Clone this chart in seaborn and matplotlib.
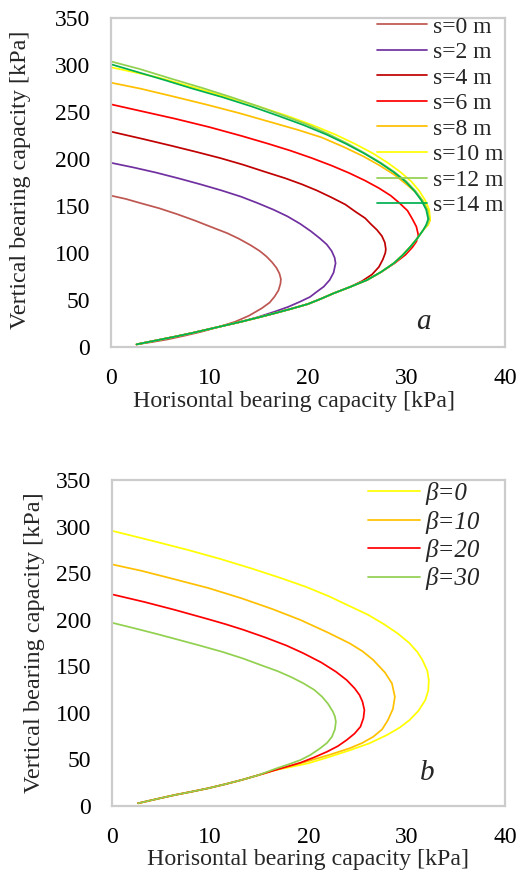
import numpy as np
import pandas as pd
import matplotlib
matplotlib.use("Agg")
import matplotlib.pyplot as plt
import seaborn as sns

# ---------------- Panel a data (s = 0 ... 14 m) ----------------
s_labels = ["s=0 m", "s=2 m", "s=4 m", "s=6 m", "s=8 m", "s=10 m", "s=12 m", "s=14 m"]
s_colors = ["#BE5651", "#7030A0", "#C00000", "#FF0000", "#FFC000", "#FFFF00", "#92D050", "#00B050"]

# common lower branch (start of every curve)
env_H = [2.6, 4.5, 6.5, 8.2, 9.85, 11.5, 13.2, 14.9, 16.6, 18.3, 20.0, 21.3, 22.6, 24.3, 26.0, 27.4, 28.7, 29.6, 30.4, 31.1, 31.7]
env_V = [2.5, 6.5, 10.7, 14.5, 18.5, 22.5, 26.6, 31.0, 35.6, 40.4, 45.5, 51.0, 56.9, 63.8, 71.1, 79.5, 88.9, 97.5, 106.6, 115.5, 124.4]

s0_H = [2.6, 4.2, 5.8, 7.5, 9.2, 10.9, 12.6, 14.0, 15.3, 16.1, 16.6, 17.0, 17.2, 17.25, 17.1, 16.8, 16.35, 15.8, 15.1, 14.2, 13.0, 11.8, 10.2, 8.5, 6.7, 4.9, 3.0, 1.5, 0.0]
s0_V = [2.5, 5.0, 7.9, 11.8, 16.0, 21.0, 26.6, 33.0, 40.9, 47.0, 53.3, 60.0, 67.0, 72.0, 78.0, 84.0, 90.0, 96.0, 102.0, 108.0, 115.0, 121.0, 127.5, 134.5, 141.3, 147.5, 153.0, 157.5, 161.0]

s2_H = env_H[:7] + [14.9, 16.6, 18.0, 19.2, 20.2, 20.9, 21.6, 22.2, 22.6, 22.8, 22.7, 22.4, 21.9, 21.2, 20.3, 19.2, 17.9, 16.5, 14.9, 13.2, 11.2, 9.1, 6.9, 4.6, 2.3, 0.0]
s2_V = env_V[:7] + [31.5, 37.3, 42.5, 48.0, 53.0, 58.6, 64.0, 71.1, 79.0, 89.0, 95.0, 102.0, 109.0, 115.5, 123.0, 131.0, 139.0, 146.0, 153.0, 159.9, 166.6, 173.0, 179.3, 185.5, 191.0, 196.0]

s4_H = env_H[:14] + [25.5, 26.5, 27.2, 27.6, 27.85, 27.9, 27.8, 27.5, 27.0, 26.4, 25.8, 24.8, 23.8, 22.4, 20.9, 19.4, 17.7, 15.6, 13.4, 11.1, 8.7, 6.2, 3.2, 0.0]
s4_V = env_V[:14] + [70.0, 77.0, 85.0, 93.0, 100.0, 104.0, 111.0, 118.0, 124.5, 130.5, 137.0, 144.0, 151.5, 159.0, 166.5, 173.0, 179.5, 186.5, 194.0, 201.0, 207.5, 214.0, 221.5, 229.2]

s6_H = env_H[:15] + [27.5, 28.8, 29.9, 30.6, 31.0, 31.2, 31.0, 30.6, 30.1, 29.3, 28.4, 27.2, 25.8, 24.2, 22.4, 20.4, 18.2, 15.9, 13.3, 10.0, 6.5, 3.1, 0.0]
s6_V = env_V[:15] + [80.0, 89.0, 98.0, 106.0, 112.0, 119.0, 128.0, 136.0, 145.0, 153.0, 161.0, 169.0, 177.0, 185.0, 193.0, 201.0, 209.0, 216.5, 224.5, 234.0, 243.0, 251.0, 258.3]

s8_H = env_H + [32.2, 32.4, 32.2, 31.7, 31.0, 30.0, 28.8, 27.3, 25.6, 23.6, 21.4, 19.0, 16.0, 13.0, 9.7, 6.2, 3.0, 0.0]
s8_V = env_V + [130.0, 135.0, 145.0, 155.0, 164.0, 173.0, 183.0, 193.0, 203.0, 213.0, 223.0, 231.0, 240.0, 249.0, 258.0, 267.0, 275.0, 281.4]

s10_H = env_H + [32.2, 32.4, 32.3, 31.9, 31.3, 30.5, 29.4, 28.1, 26.6, 24.8, 22.8, 20.5, 17.9, 15.0, 11.8, 8.2, 4.8, 0.0]
s10_V = env_V + [130.0, 136.0, 146.0, 156.0, 166.0, 176.0, 186.0, 196.0, 206.0, 216.0, 226.0, 236.0, 246.0, 256.0, 266.0, 277.0, 287.0, 297.8]

s12_H = env_H + [32.1, 32.3, 32.1, 31.6, 30.9, 30.0, 28.8, 27.4, 25.8, 24.1, 22.2, 20.0, 17.6, 15.0, 12.2, 9.2, 6.0, 2.9, 0.0]
s12_V = env_V + [130.0, 136.0, 146.0, 156.0, 166.0, 176.0, 186.0, 196.0, 206.0, 216.0, 226.0, 236.5, 246.0, 256.0, 266.0, 276.0, 286.0, 296.0, 304.0]

s14_H = env_H + [32.0, 32.2, 32.0, 31.5, 30.8, 29.9, 28.7, 27.3, 25.7, 23.9, 21.9, 19.6, 17.0, 14.3, 11.3, 8.3, 5.5, 2.6, 0.0]
s14_V = env_V + [130.0, 136.0, 146.0, 156.0, 166.0, 176.0, 186.0, 196.0, 206.0, 216.0, 226.0, 236.0, 246.0, 256.0, 266.0, 275.0, 284.0, 293.0, 301.0]

# ---------------- Panel b data (beta = 0 ... 30) ----------------
b_labels = ["β=0", "β=10", "β=20", "β=30"]
b_colors = ["#FFFF00", "#FFC000", "#FF0000", "#92D050"]

envb_H = [2.68, 4.5, 6.41, 8.1, 9.8, 11.5, 13.2, 14.9, 16.6]
envb_V = [2.6, 7.0, 11.5, 15.0, 18.7, 23.0, 27.6, 32.8, 38.2]

b0_H = envb_H + [18.3, 20.0, 22.0, 24.2, 26.2, 28.0, 29.3, 30.3, 31.2, 31.9, 32.2, 32.25, 32.1, 31.6, 31.1, 30.25, 29.1, 27.7, 26.1, 24.1, 22.1, 19.8, 17.1, 14.2, 11.1, 7.7, 4.0, 0.0]
b0_V = envb_V + [41.8, 45.6, 52.0, 59.5, 67.0, 76.0, 84.0, 92.1, 102.0, 113.6, 124.0, 135.0, 145.0, 156.6, 165.0, 175.0, 185.0, 195.0, 205.0, 215.0, 225.0, 235.0, 245.0, 255.0, 265.0, 275.0, 285.0, 295.5]

b10_H = envb_H + [18.3, 20.0, 22.1, 24.2, 25.5, 26.6, 27.5, 28.1, 28.6, 28.8, 28.5, 27.8, 26.6, 25.5, 24.2, 22.0, 19.2, 16.3, 13.2, 9.8, 6.0, 3.0, 0.0]
b10_V = envb_V + [43.0, 48.0, 54.5, 61.7, 67.5, 74.1, 82.0, 92.1, 104.0, 117.0, 131.5, 143.0, 156.6, 166.0, 174.5, 186.0, 199.6, 211.5, 222.9, 234.0, 244.4, 252.5, 259.4]

b20_H = envb_H + [18.0, 19.2, 20.6, 21.9, 23.0, 23.9, 24.7, 25.3, 25.6, 25.7, 25.5, 25.2, 24.7, 23.9, 22.8, 21.3, 19.5, 17.8, 15.7, 13.4, 11.6, 9.8, 6.4, 3.3, 0.0]
b20_V = envb_V + [42.5, 46.2, 52.0, 58.0, 64.0, 70.6, 77.5, 84.9, 94.0, 102.8, 112.0, 119.0, 126.2, 135.0, 144.0, 154.0, 163.8, 172.0, 180.5, 189.0, 195.0, 200.5, 210.5, 219.0, 227.2]

b30_H = envb_H[:8] + [16.6, 18.0, 19.2, 20.2, 21.2, 21.9, 22.4, 22.7, 22.8, 22.7, 22.5, 22.0, 21.4, 20.6, 19.5, 18.3, 16.9, 15.2, 13.3, 11.2, 9.0, 6.9, 4.6, 2.3, 0.0]
b30_V = envb_V[:8] + [39.5, 44.5, 49.1, 54.5, 61.7, 67.5, 74.1, 82.0, 90.3, 96.0, 101.0, 109.5, 117.1, 124.5, 131.5, 138.0, 144.5, 151.0, 158.4, 165.5, 172.0, 178.0, 184.5, 190.7, 196.7]

x_ticks = [0, 10, 20, 30, 40]
y_ticks = [0, 50, 100, 150, 200, 250, 300, 350]


def build(labels, Hs, Vs):
    frames = []
    for lab, h, v in zip(labels, Hs, Vs):
        frames.append(pd.DataFrame({"H": h, "V": v, "series": lab}))
    return pd.concat(frames, ignore_index=True)


df_a = build(s_labels, [s0_H, s2_H, s4_H, s6_H, s8_H, s10_H, s12_H, s14_H],
             [s0_V, s2_V, s4_V, s6_V, s8_V, s10_V, s12_V, s14_V])
df_b = build(b_labels, [b0_H, b10_H, b20_H, b30_H], [b0_V, b10_V, b20_V, b30_V])

sns.set_style("white")
plt.rcParams["font.family"] = ["Liberation Serif", "DejaVu Serif"]

W, Hpx = 520, 874
fig = plt.figure(figsize=(W / 100, Hpx / 100), dpi=100)
A_BOX = (111.0, 18.3, 505.0, 346.7)     # left, top, right, bottom in pixels
B_BOX = (111.7, 480.0, 505.0, 805.7)


def add_ax(box):
    l, t, r, b = box
    return fig.add_axes([l / W, 1 - b / Hpx, (r - l) / W, (b - t) / Hpx])


ax_a = add_ax(A_BOX)
ax_b = add_ax(B_BOX)

FS_TICK = 17
FS_LAB = 18
spine_c = "#CCCCCC"

for ax, df, labels, colors in [(ax_a, df_a, s_labels, s_colors), (ax_b, df_b, b_labels, b_colors)]:
    sns.lineplot(data=df, x="H", y="V", hue="series", hue_order=labels, palette=colors,
                 sort=False, estimator=None, units="series", linewidth=1.25, ax=ax)
    ax.set_xlim(0, 40)
    ax.set_ylim(0, 350)
    ax.set_xticks(x_ticks)
    ax.set_yticks(y_ticks)
    ax.tick_params(axis="both", length=0, labelsize=FS_TICK, colors="black")
    ax.tick_params(axis="x", pad=15)
    ax.tick_params(axis="y", pad=15)
    for sp in ax.spines.values():
        sp.set_color(spine_c)
        sp.set_linewidth(1.6)
    ax.grid(False)

# Axis labels: positioned by their measured centres in the reference
XLAB = "Horisontal bearing capacity [kPa]"
YLAB = "Vertical bearing capacity [kPa]"
label_specs = [
    (ax_a, A_BOX, (294.0, 401.7, 322.0), (21.0, 180.0, 298.0)),
    (ax_b, B_BOX, (307.5, 860.0, 321.0), (35.0, 643.0, 300.0)),
]
for ax, box, xs, ys in label_specs:
    ax.set_xlabel(XLAB, fontsize=FS_LAB)
    ax.set_ylabel(YLAB, fontsize=FS_LAB)
    ax.xaxis.label.set_va("center")
    ax.yaxis.label.set_va("center")
    ax.yaxis.label.set_ha("center")

fig.canvas.draw()
rend = fig.canvas.get_renderer()
for ax, box, xs, ys in label_specs:
    l, t, r, b = box
    xl = ax.xaxis.label
    w = xl.get_window_extent(rend).width
    xl.set_fontsize(FS_LAB * xs[2] / w)
    ax.xaxis.set_label_coords((xs[0] - l) / (r - l), (b - xs[1]) / (b - t))
    yl = ax.yaxis.label
    hgt = yl.get_window_extent(rend).height
    yl.set_fontsize(FS_LAB * ys[2] / hgt)
    ax.yaxis.set_label_coords((ys[0] - l) / (r - l), (b - ys[1]) / (b - t))

# Legends
h, l = ax_a.get_legend_handles_labels()
ax_a.legend(h, l, loc="upper left", bbox_to_anchor=(377 / W, 1 - 16 / Hpx), bbox_transform=fig.transFigure,
            frameon=False, fontsize=17, handlelength=2.12, handletextpad=0.25,
            labelspacing=0.17, borderaxespad=0, borderpad=0)
h, l = ax_b.get_legend_handles_labels()
ax_b.legend(h, l, loc="upper left", bbox_to_anchor=(368 / W, 1 - 482 / Hpx), bbox_transform=fig.transFigure,
            frameon=False, prop={"size": 18, "style": "italic"}, handlelength=2.08, handletextpad=0.2,
            labelspacing=0.22, borderaxespad=0, borderpad=0)

ax_a.text(0.793, 0.076, "a", transform=ax_a.transAxes, fontsize=21, style="italic",
          ha="center", va="center")
ax_b.text(0.802, 0.10, "b", transform=ax_b.transAxes, fontsize=21, style="italic",
          ha="center", va="center")

fig.savefig("out.png", dpi=100)
